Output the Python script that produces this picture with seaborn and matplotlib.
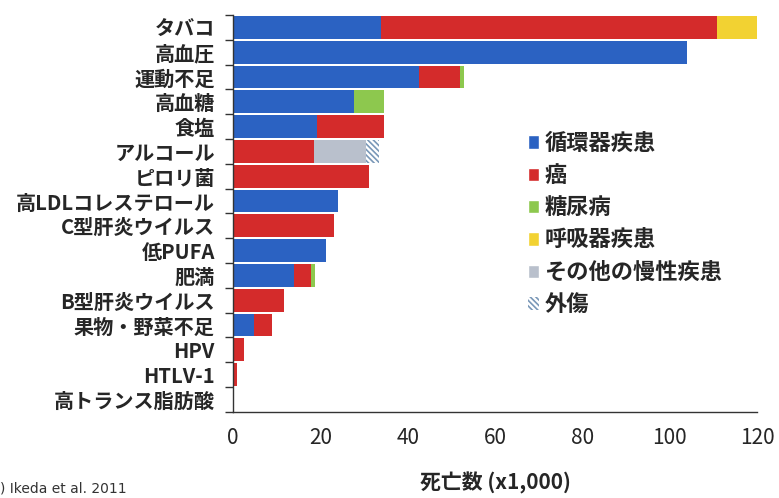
import matplotlib
matplotlib.use("Agg")
import matplotlib.pyplot as plt
from matplotlib.patches import Patch
from matplotlib.ticker import FixedLocator
import seaborn as sns
import numpy as np

# risk factors (top to bottom)
factors = ['タバコ', '高血圧', '運動不足', '高血糖', '食塩', 'アルコール', 'ピロリ菌',
           '高LDLコレステロール', 'C型肝炎ウイルス', '低PUFA', '肥満', 'B型肝炎ウイルス',
           '果物・野菜不足', 'HPV', 'HTLV-1', '高トランス脂肪酸']

# deaths (x1,000) per disease group
junkanki = [34.0, 104.0, 42.5, 27.6, 19.3, 0, 0, 24.1, 0, 21.2, 14.0, 0, 4.9, 0, 0, 0]
gan      = [76.8, 0, 9.5, 0, 15.3, 18.5, 31.1, 0, 23.2, 0, 3.9, 11.6, 4.1, 2.6, 1.0, 0]
tonyo    = [0, 0, 0.8, 7.0, 0, 0, 0, 0, 0, 0, 0.9, 0, 0, 0, 0, 0]
kokyuki  = [9.2, 0, 0, 0, 0, 0, 0, 0, 0, 0, 0, 0, 0, 0, 0, 0]
sonota   = [0, 0, 0, 0, 0, 11.9, 0, 0, 0, 0, 0, 0, 0, 0, 0, 0]
gaisho   = [0, 0, 0, 0, 0, 3.0, 0, 0, 0, 0, 0, 0, 0, 0, 0, 0]

series = ['循環器疾患', '癌', '糖尿病', '呼吸器疾患', 'その他の慢性疾患', '外傷']
colors = ['#2b62c2', '#d42b2b', '#8dc84e', '#f2d232', '#b9c0cc', '#ffffff']
hatch_col = '#7a98b8'

sns.set_style("white")
plt.rcParams['font.family'] = ['Noto Sans CJK JP', 'DejaVu Sans']
plt.rcParams['hatch.linewidth'] = 1.2

fig, ax = plt.subplots(figsize=(7.79, 4.98), dpi=100)
fig.subplots_adjust(left=0.299, right=0.972, top=0.970, bottom=0.173)

# stacked bars: draw cumulative totals from back to front
layers = [junkanki, gan, tonyo, kokyuki, sonota, gaisho]
cum = np.cumsum(np.array(layers), axis=0)
for i in range(len(layers) - 1, -1, -1):
    if i == 5:
        kw = dict(hatch='\\\\\\\\\\\\', edgecolor=hatch_col, linewidth=0)
    else:
        kw = dict(linewidth=0)
    sns.barplot(x=cum[i], y=factors, orient='h', color=colors[i], saturation=1,
                width=0.92, ax=ax, **kw)

ax.set_xlim(0, 120)
ax.set_ylim(15.5, -0.5)
ax.set_xticks(range(0, 121, 20))
ax.tick_params(axis='x', labelsize=15, length=5, width=1, color='#333333', pad=6)
ax.tick_params(axis='y', which='major', length=0, labelsize=14.5, pad=13)
ax.yaxis.set_minor_locator(FixedLocator(np.arange(-0.5, 16, 1)))
ax.tick_params(axis='y', which='minor', length=6, width=1, color='#333333', left=True)
for lab in ax.get_yticklabels():
    lab.set_fontweight('bold')

for s in ['top', 'right']:
    ax.spines[s].set_visible(False)
for s in ['left', 'bottom']:
    ax.spines[s].set_color('#333333')
    ax.spines[s].set_linewidth(1)

ax.set_xlabel('死亡数 (x1,000)', fontsize=15, fontweight='bold', labelpad=16)
ax.set_ylabel('')

handles = []
for i, name in enumerate(series):
    if i == 5:
        handles.append(Patch(facecolor='white', edgecolor=hatch_col, hatch='\\\\\\\\\\\\',
                             linewidth=0, label=name))
    else:
        handles.append(Patch(facecolor=colors[i], label=name))
leg = ax.legend(handles=handles, loc='upper left', bbox_to_anchor=(0.545, 0.728),
                frameon=False, prop={'size': 16, 'weight': 'bold'},
                handlelength=0.5, handleheight=0.55, handletextpad=0.25,
                labelspacing=0.42, borderaxespad=0)

fig.text(0.0, 0.012, ') Ikeda et al. 2011', fontsize=10, color='#333333',
         family='DejaVu Sans')

fig.savefig('out.png', dpi=100)
